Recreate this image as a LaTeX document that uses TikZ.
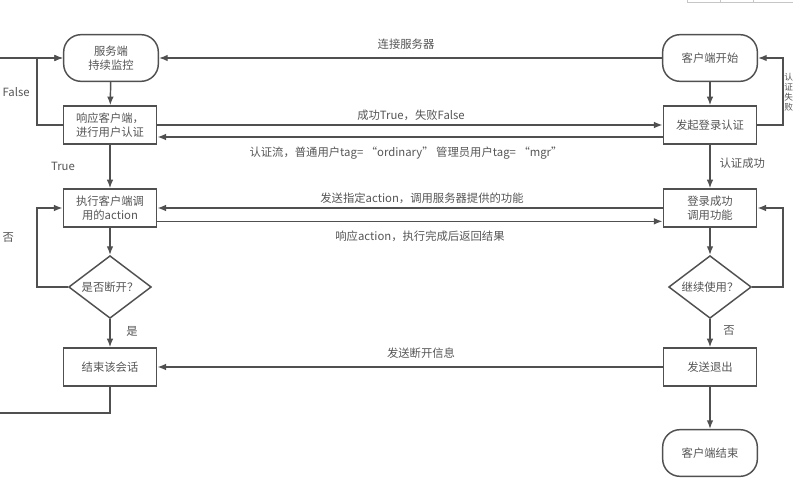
\documentclass[tikz,border=0pt]{standalone}
\usepackage{fontspec}
\setmainfont{Noto Sans CJK SC}
\usetikzlibrary{shapes.geometric,arrows.meta}

\definecolor{linegray}{RGB}{80,80,80}
\definecolor{textgray}{RGB}{85,85,85}

\tikzset{
  base/.style={draw=linegray, line width=1.1pt, text=textgray, align=center,
    font=\fontsize{8.5}{10.5}\selectfont},
  termbox/.style={base, rectangle, rounded corners=13pt, minimum width=71pt, minimum height=35pt},
  procbox/.style={base, rectangle, minimum width=70pt, minimum height=28.5pt, inner sep=1pt},
  askbox/.style={base, diamond, aspect=1.3, inner sep=0pt, minimum width=62pt, minimum height=47pt},
  flow/.style={draw=linegray, line width=1.1pt, -{Latex[length=6.5pt,width=5pt]}},
  lbl/.style={text=textgray, font=\fontsize{8.5}{10.5}\selectfont, inner sep=1pt, align=center}
}

\begin{document}
\begin{tikzpicture}[x=0.75pt,y=0.75pt,yscale=-1,xscale=1]
\useasboundingbox (0,0) rectangle (793,496);
\clip (0,0) rectangle (793,496);

%Shape: toolbar remnant top right
\draw [gray!45, line width=0.6pt] (687,-10) -- (687,2) -- (800,2);
\draw [gray!45, line width=0.6pt] (720,-10) -- (720,2) (753,-10) -- (753,2);

%Server side
\node [termbox] (srvwatch) at (111,58) {服务端\\持续监控};
\node [procbox] (srvauth) at (110,125) {响应客户端，\\进行用户认证};
\node [procbox] (srvexec) at (110,208) {执行客户端调\\用的action};
\node [askbox] (srvask) at (110,287) {是否断开？};
\node [procbox] (srvend) at (110,367) {结束该会话};

%Client side
\node [termbox] (cstart) at (710,58) {客户端开始};
\node [procbox] (clogin) at (710,125) {发起登录认证};
\node [procbox] (ccall) at (710,208) {登录成功\\调用功能};
\node [askbox] (cask) at (710,287) {继续使用？};
\node [procbox] (cquit) at (710,367) {发送退出};
\node [termbox] (cend) at (710,453) {客户端结束};

%Bend points
\coordinate (srvrail) at (37,58);
\coordinate (srvrail2) at (37,208);
\coordinate (crail) at (783,58);
\coordinate (crail2) at (783,208);
\coordinate (outer) at (-20,413);

%Server flow
\draw [flow] (srvwatch) -- (srvauth);
\draw [flow] (srvauth) -- (srvexec);
\draw [flow] (srvexec) -- (srvask);
\draw [flow] (srvask) -- (srvend);
\draw [flow] (srvauth.west) -| (srvrail) -- (srvwatch.west);
\draw [flow] (srvask.west) -| (srvrail2) -- (srvexec.west);
\draw [flow] (srvend.south) |- (outer) |- (srvwatch.west);

%Client flow
\draw [flow] (cstart) -- (clogin);
\draw [flow] (clogin) -- (ccall);
\draw [flow] (ccall) -- (cask);
\draw [flow] (cask) -- (cquit);
\draw [flow] (cquit) -- (cend);
\draw [flow] (clogin.east) -| (crail) -- (cstart.east);
\draw [flow] (cask.east) -| (crail2) -- (ccall.east);

%Messages between the two sides
\draw [flow] (cstart.west) -- (srvwatch.east);
\draw [flow] (srvauth.east) -- (clogin.west);
\draw [flow] ([yshift=9pt]clogin.west) -- ([yshift=9pt]srvauth.east);
\draw [flow] (ccall.west) -- (srvexec.east);
\draw [flow] ([yshift=10pt]srvexec.east) -- ([yshift=10pt]ccall.west);
\draw [flow] (cquit.west) -- (srvend.east);

%Labels
\node [lbl] (tconnect) at (406,44) {连接服务器};
\node [lbl] (tresult) at (411,115) {成功True，失败False};
\node [lbl] (tflow) at (406,153) {认证流，普通用户tag= “ordinary” 管理员用户tag= “mgr”};
\node [lbl] (tsend) at (422,198) {发送指定action，调用服务器提供的功能};
\node [lbl] (treply) at (420,236) {响应action，执行完成后返回结果};
\node [lbl] (tclose) at (421,353) {发送断开信息};
\node [lbl, anchor=west] (tfalse) at (1,92) {False};
\node [lbl] (ttrue) at (63,166) {True};
\node [lbl, anchor=west] (tno) at (1,238) {否};
\node [lbl] (tyes) at (132,331) {是};
\node [lbl, anchor=west] (tauthok) at (718,163) {认证成功};
\node [lbl, font=\fontsize{6.5}{7.6}\selectfont, inner sep=0pt] (tauthno) at (788.6,92) {认\\证\\失\\败};
\node [lbl] (tcno) at (729,331) {否};

\end{tikzpicture}
\end{document}
